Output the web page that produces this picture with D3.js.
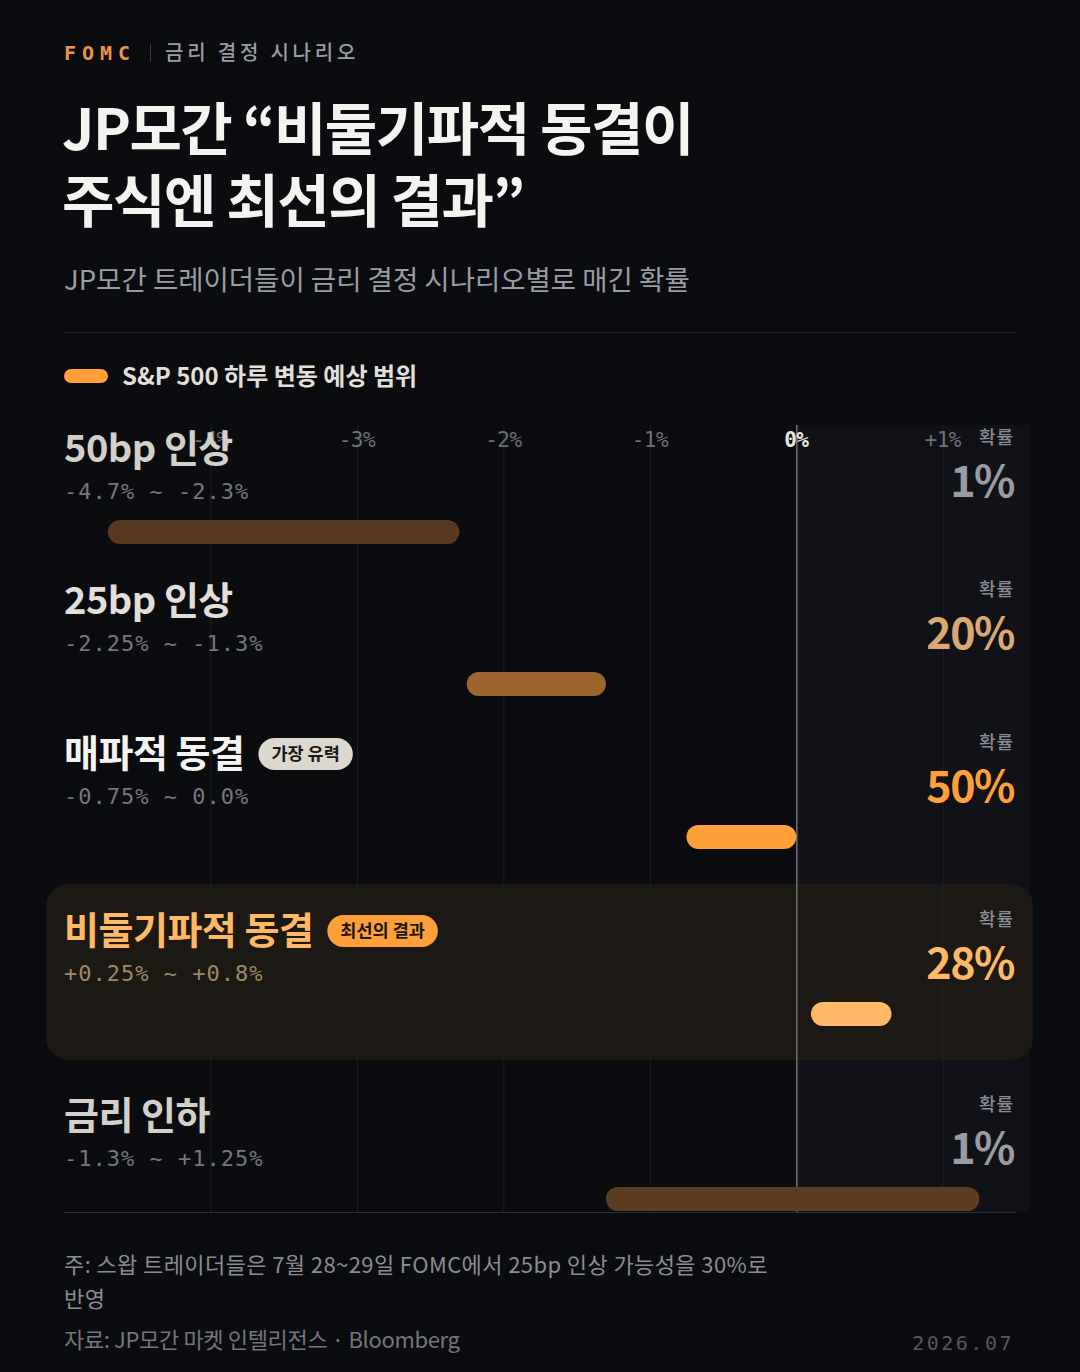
<!DOCTYPE html>
<html>
<head>
<meta charset="utf-8">
<script src="https://cdn.jsdelivr.net/npm/d3@7"></script>
<style>
  html, body { margin: 0; padding: 0; background: #0b0c10; }
  svg { display: block; }
</style>
</head>
<body>
<svg id="container"></svg>
<script>
// scenarios, ranges and probabilities
const scenarios = ["50bp 인상", "25bp 인상", "매파적 동결", "비둘기파적 동결", "금리 인하"]
const rangeLabels = ["-4.7% ~ -2.3%", "-2.25% ~ -1.3%", "-0.75% ~ 0.0%", "+0.25% ~ +0.8%", "-1.3% ~ +1.25%"]
const lows = [-4.7, -2.25, -0.75, 0.1, -1.3]
const highs = [-2.3, -1.3, 0, 0.65, 1.25]
const probs = [1, 20, 50, 28, 1]
const badges = [null, null, "가장 유력", "최선의 결과", null]
const ticks = [-4, -3, -2, -1, 0, 1]
const tickLabels = ["-4%", "-3%", "-2%", "-1%", "0%", "+1%"]

const W = 1080, H = 1372
const KR = "'Noto Sans CJK KR', 'Noto Sans', sans-serif"
const MONO = "'DejaVu Sans Mono', 'Liberation Mono', monospace"

const svg = d3.select("#container").attr("width", W).attr("height", H)
svg.append("rect").attr("width", W).attr("height", H).attr("fill", "#0b0c10")

const x = d3.scaleLinear().domain([-5, 1.5]).range([64, 1016])
// row offsets (title baseline)
const rowY = d3.scaleOrdinal().domain(scenarios).range([462, 614, 767, 944, 1129])

// header
svg.append("text").attr("x", 64).attr("y", 60).text("FOMC")
   .attr("font-family", MONO).attr("font-weight", 700).attr("font-size", 20)
   .attr("letter-spacing", 6).attr("fill", "#e8954a")
svg.append("line").attr("x1", 150.5).attr("x2", 150.5).attr("y1", 44).attr("y2", 62)
   .attr("stroke", "#3a3c42")
svg.append("text").attr("x", 165).attr("y", 60).text("금리 결정 시나리오")
   .attr("font-family", KR).attr("font-weight", 500).attr("font-size", 20)
   .attr("letter-spacing", 3.8).attr("fill", "#9a9ca3")

const title = ["JP모간 “비둘기파적 동결이", "주식엔 최선의 결과”"]
title.forEach((t, i) => {
	svg.append("text").attr("x", 62).attr("y", 150 + i * 72).text(t)
	   .attr("font-family", KR).attr("font-weight", 700).attr("font-size", 57)
	   .attr("letter-spacing", -1.5).attr("fill", "#f5f3ef")
})
svg.append("text").attr("x", 64).attr("y", 290).text("JP모간 트레이더들이 금리 결정 시나리오별로 매긴 확률")
   .attr("font-family", KR).attr("font-size", 27.5).attr("fill", "#9a9ca3")
svg.append("line").attr("x1", 64).attr("x2", 1016).attr("y1", 332.5).attr("y2", 332.5)
   .attr("stroke", "#24262b")

// legend
svg.append("rect").attr("x", 64).attr("y", 369).attr("width", 44).attr("height", 14).attr("rx", 7)
   .attr("fill", "#ff9f3a")
svg.append("text").attr("x", 122).attr("y", 385).text("S&P 500 하루 변동 예상 범위")
   .attr("font-family", KR).attr("font-weight", 700).attr("font-size", 24).attr("fill", "#e2dfd8")

// positive zone shading
const plotTop = 425, plotBottom = 1212
svg.append("rect").attr("x", x(0)).attr("y", plotTop).attr("width", 1030 - x(0)).attr("height", plotBottom - plotTop)
   .attr("fill", "#111217")

// highlight box
svg.append("rect").attr("x", 46).attr("y", 884).attr("width", 987).attr("height", 176).attr("rx", 22)
   .attr("fill", "#1c1915")

// grid
svg.selectAll(".grid").data(ticks).join("line")
   .attr("x1", d => x(d) + 0.5).attr("x2", d => x(d) + 0.5)
   .attr("y1", plotTop).attr("y2", plotBottom)
   .attr("stroke", d => d === 0 ? "#707176" : "#1e2025")
   .attr("stroke-width", d => d === 0 ? 1.5 : 1)
svg.append("line").attr("x1", 64).attr("x2", 1016).attr("y1", plotBottom + 0.5).attr("y2", plotBottom + 0.5)
   .attr("stroke", "#2a2c31")

svg.selectAll(".tick").data(ticks).join("text")
   .attr("x", d => x(d)).attr("y", 447).attr("text-anchor", "middle")
   .text((d, i) => tickLabels[i])
   .attr("font-family", MONO).attr("font-size", 21)
   .attr("font-weight", d => d === 0 ? 700 : 400)
   .attr("letter-spacing", -0.5)
   .attr("fill", d => d === 0 ? "#e8e6e0" : "#6f7177")

const titleColor = ["#d3d0ca", "#e2dfd8", "#f5f3ef", "#ffb866", "#d3d0ca"]
const rangeColor = ["#75777d", "#75777d", "#75777d", "#a08866", "#75777d"]
const probColor = ["#9a9ca3", "#dba772", "#ff9f3a", "#ffb866", "#9a9ca3"]
const barColor = ["#583a20", "#9c642f", "#ff9f3a", "#ffb866", "#5c3d22"]

scenarios.forEach((s, i) => {
	const y0 = rowY(s)
	const g = svg.append("g")
	const tt = g.append("text").attr("x", 64).attr("y", y0).text(s)
	   .attr("font-family", KR).attr("font-weight", 700).attr("font-size", 38)
	   .attr("letter-spacing", -0.5).attr("fill", titleColor[i])
	g.append("text").attr("x", 64).attr("y", y0 + 37).text(rangeLabels[i])
	   .attr("font-family", MONO).attr("font-size", 22).attr("letter-spacing", 1)
	   .attr("fill", rangeColor[i])
	if (badges[i]) {
		const tw = tt.node().getComputedTextLength()
		const bx = 64 + tw + 14
		const pill = g.append("rect").attr("x", bx).attr("y", y0 - 29).attr("height", 32)
		   .attr("rx", 16).attr("fill", i === 2 ? "#dcd8d0" : "#ff9f3a")
		const bt = g.append("text").attr("x", bx + 13).attr("y", y0 - 7).text(badges[i])
		   .attr("font-family", KR).attr("font-weight", 700).attr("font-size", 17.5)
		   .attr("fill", "#1a1714")
		pill.attr("width", bt.node().getComputedTextLength() + 26)
	}
	// probability
	g.append("text").attr("x", 1014).attr("y", y0 - 18).attr("text-anchor", "end").text("확률")
	   .attr("font-family", KR).attr("font-weight", 500).attr("font-size", 18)
	   .attr("letter-spacing", 1).attr("fill", "#8a8c92")
	g.append("text").attr("x", 1014).attr("y", y0 + 35).attr("text-anchor", "end").text(probs[i] + "%")
	   .attr("font-family", KR).attr("font-weight", 700).attr("font-size", 43)
	   .attr("letter-spacing", -1.5).attr("fill", probColor[i])
	// range bar
	g.append("rect").attr("x", x(lows[i])).attr("y", y0 + 58)
	   .attr("width", x(highs[i]) - x(lows[i])).attr("height", 24).attr("rx", 12)
	   .attr("fill", barColor[i])
})

// footer
const notes = ["주: 스왑 트레이더들은 7월 28~29일 FOMC에서 25bp 인상 가능성을 30%로", "반영"]
notes.forEach((t, i) => {
	svg.append("text").attr("x", 64).attr("y", 1273 + i * 34).text(t)
	   .attr("font-family", KR).attr("font-size", 22).attr("letter-spacing", 0.4).attr("fill", "#8a8c92")
})
svg.append("text").attr("x", 64).attr("y", 1348).text("자료: JP모간 마켓 인텔리전스 · Bloomberg")
   .attr("font-family", KR).attr("font-size", 22).attr("letter-spacing", -0.35).attr("fill", "#74767c")
svg.append("text").attr("x", 1014).attr("y", 1350).attr("text-anchor", "end").text("2026.07")
   .attr("font-family", MONO).attr("font-size", 20).attr("letter-spacing", 2.5).attr("fill", "#55575d")
</script>
</body>
</html>
